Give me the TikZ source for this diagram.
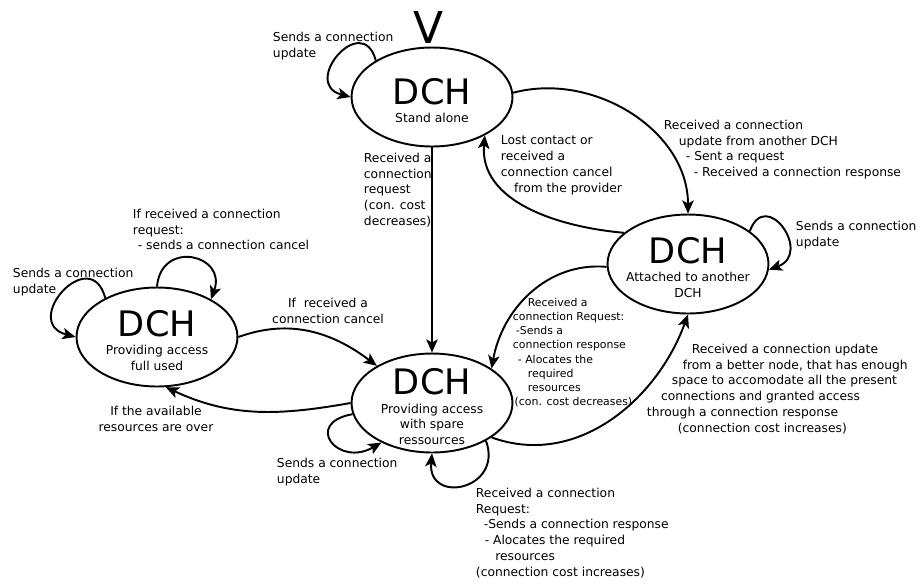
\documentclass[tikz,border=0pt]{standalone}
\usepackage{fontspec}
\setmainfont{DejaVu Sans}
\usetikzlibrary{shapes.geometric,arrows.meta}

\newcommand{\dchtitle}{{\rule{0pt}{19pt}\fontsize{20}{20}\selectfont DCH}}
\tikzset{
    state/.style={ellipse, draw, minimum width=3.22cm, minimum height=1.98cm,
        inner xsep=-3pt, inner ysep=-6pt, align=center, font=\fontsize{7}{9}\selectfont},
    txt/.style={anchor=north west, inner sep=0pt, align=left,
        font=\fontsize{7}{9}\selectfont},
    txtc/.style={anchor=north, inner sep=0pt, align=center,
        font=\fontsize{7}{9}\selectfont},
}

\begin{document}
\begin{tikzpicture}[auto, x=0.02cm, y=0.02cm, line width=1.1pt,
    >={Stealth[length=7.5pt, width=6.5pt, inset=1.8pt]}]
    \useasboundingbox (0, 0) rectangle (920, -583);
    \node [state] (a) at (432, -97) {\dchtitle\\[1.5pt]Stand alone};
    \node [state] (b) at (688, -264) {\dchtitle\\[1.5pt]Attached to another\\DCH};
    \node [state] (c) at (157, -337) {\dchtitle\\[1.5pt]Providing access\\full used};
    \node [state] (d) at (432, -403) {\dchtitle\\[1.5pt]Providing access\\with spare\\ressources};
    \node [anchor=base, inner sep=0pt] (v) at (429, -43) {\fontsize{25}{25}\selectfont V};
    \node [txt] (e) at (272, -31) {Sends a connection\\update};
    \node [txt] (f) at (663, -119) {Received a connection\\\hspace*{8.5pt}update from another DCH\\\hspace*{12.5pt}- Sent a request\\\hspace*{17pt}- Received a connection response};
    \node [txt] (g) at (500, -135) {Lost contact or\\received a\\connection cancel\\\hspace*{7.5pt}from the provider};
    \node [txt] (h) at (363, -152) {Received a\\connection\\request\\(con. cost\\decreases)};
    \node [txt] (i) at (795, -220) {Sends a connection\\update};
    \node [txt, font=\fontsize{6.2}{8.1}\selectfont] (j) at (512, -297) {\hspace*{8.5pt}Received a\\connection Request:\\\hspace*{1.7pt}-Sends a\\connection response\\\hspace*{2.8pt}- Alocates the\\\hspace*{8.5pt}required\\\hspace*{8.5pt}resources\\\hspace*{1pt}(con. cost decreases)};
    \node [txt] (k) at (646, -343) {\hspace*{25.5pt}Received a connection update\\\hspace*{20.4pt}from a better node, that has enough\\\hspace*{14.2pt}space to accomodate all the present\\\hspace*{8pt}connections and granted access\\through a connection response\\\hspace*{17.6pt}(connection cost increases)};
    \node [txtc] (l) at (328, -297) {If~ received a\\connection cancel};
    \node [txtc] (m) at (156, -405) {If the available\\resources are over};
    \node [txt] (n) at (12, -267) {Sends a connection\\update};
    \node [txt] (o) at (132, -208) {If received a connection\\request:\\\hspace*{2.8pt}- sends a connection cancel};
    \node [txt] (p) at (276, -457) {Sends a connection\\update};
    \node [txt] (q) at (475, -487) {Received a connection\\Request:\\\hspace*{4.5pt}-Sends a connection response\\\hspace*{5pt}- Alocates the required\\\hspace*{11pt}resources\\(connection cost increases)};
    \draw [->] (a.147) to [out=105, in=165, looseness=3] (a.180);
    \draw [->] (a.3) to [out=15, in=90] (b.90);
    \draw [->] (b.154) to [out=175, in=-95] (a.-36);
    \draw [->] (a) to (d);
    \draw [->] (b.28) to [out=70, in=20, looseness=2.8] (b.356);
    \draw [->] (b.182) to [out=175, in=80] (d.30);
    \draw [->] (d.-30) to [out=-20, in=-110] (b.-90);
    \draw [->] (c.0) to [out=20, in=143] (d.146);
    \draw [->] (d.180) to [out=190, in=-25] (c.-80);
    \draw [->] (c.143) to [out=105, in=165, looseness=3] (c.180);
    \draw [->] (c.90) to [out=85, in=70, looseness=2.2] (c.35);
    \draw [->] (d.188) to [out=190, in=-150, looseness=3.2] (d.218);
    \draw [->] (d.-35) to [out=-70, in=-95, looseness=2.4] (d.270);
\end{tikzpicture}
\end{document}
